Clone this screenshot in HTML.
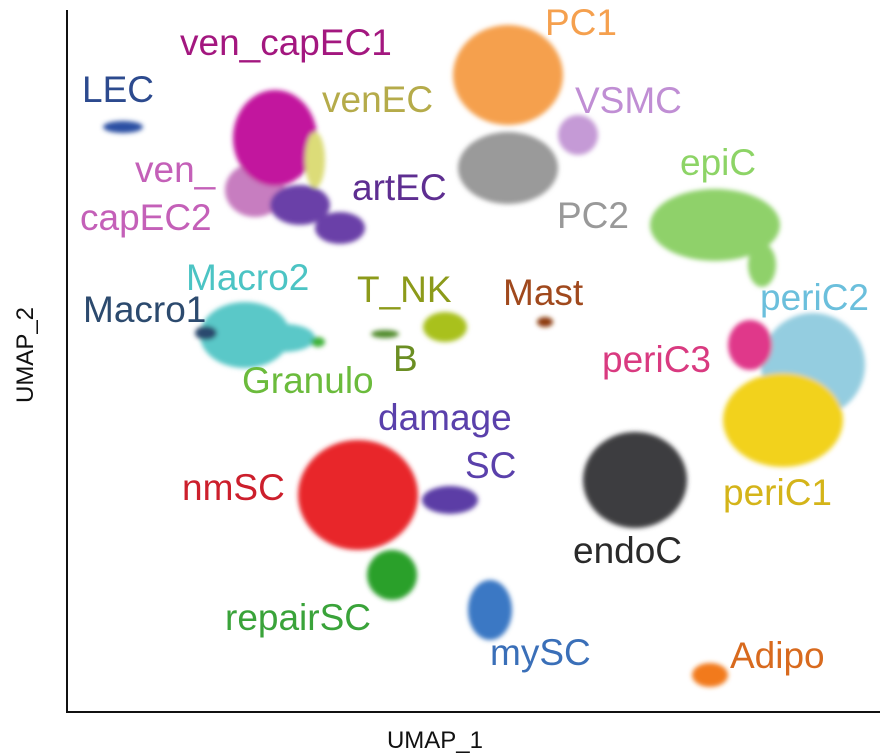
<!DOCTYPE html>
<html><head><meta charset="utf-8"><style>
html,body{margin:0;padding:0;background:#fff;}
svg{display:block;}
text{font-family:"Liberation Sans",Arial,sans-serif;}
</style></head><body>
<svg id="chart" width="887" height="755">
<defs>
<filter id="soft" x="-30%" y="-30%" width="160%" height="160%"><feGaussianBlur stdDeviation="2.5"/></filter>
</defs>
<g id="clusters" filter="url(#soft)"></g>
<g id="labels"></g>
<line x1="67" y1="10" x2="67" y2="712" stroke="#111" stroke-width="2"/>
<line x1="66" y1="712" x2="880" y2="712" stroke="#111" stroke-width="2"/>
<text x="435" y="748" font-size="24" text-anchor="middle" fill="#111">UMAP_1</text>
<text x="0" y="0" font-size="24" text-anchor="middle" fill="#111" transform="translate(33,355) rotate(-90)">UMAP_2</text>
</svg>
<script>
// cluster blobs in UMAP-like units (0..813 x, 0..702 y)
const blobNames=["LEC","ven_capEC2","ven_capEC1","artEC-a","artEC-b","venEC","PC1","PC2","VSMC","epiC-a","epiC-b","periC2","periC3","periC1","endoC","Mast","T_NK","B","Macro2-a","Macro2-b","Macro1","Granulo","nmSC","damageSC","repairSC","mySC","Adipo"];
const blobX=[56,188,208,233,273,248,441,441,511,648,695,746,683,716,568,478,378,318,178,218,139,251,291,383,325,423,643];
const blobY=[585,522,574,507,484,552,637,544,577,487,447,347,367,292,232,390,385,378,377,374,379,370,217,212,137,102,37];
const blobRX=[20,30,42,30,25,10,55,50,20,65,14,52,22,60,52,8,22,14,45,30,11,7,60,28,25,22,18];
const blobRY=[6,27,48,20,16,28,50,36,20,36,22,52,25,47,48,5,15,4,33,14,7,5,55,14,25,30,12];
const blobColors=["#2b4fa3","#c77dc0","#c2199e","#6a3fa8","#6a3fa8","#dcdc78","#f5a04e","#9a9a9a","#c59ad6","#8fd16a","#8fd16a","#94cde0","#e0388a","#f2d21b","#3d3d40","#8c3a10","#a9c11d","#4f8a2a","#5ac8c8","#5ac8c8","#2c4a6e","#3fb23a","#e8262a","#5c3ea6","#2ca02c","#3a78c4","#f27a1e"];
const labelTexts=["ven_capEC1","LEC","venEC","ven_","capEC2","artEC","PC1","VSMC","PC2","epiC","Macro2","T_NK","Mast","periC2","Macro1","B","periC3","Granulo","damage","SC","nmSC","periC1","endoC","repairSC","mySC","Adipo"];
const labelX=[113,15,255,68,13,285,478,508,490,613,119,290,436,693,16,326,535,175,311,398,115,656,506,158,423,663];
const labelY=[657,610,600,530,482,512,677,599,484,537,422,410,407,402,390,341,340,319,282,234,212,207,149,82,47,44];
const labelColors=["#a3177f","#2c4a8e","#b5ab4a","#c460b8","#c460b8","#5e2e91","#f5a04e","#c08ed4","#999999","#8dd466","#4cc4c4","#8c9a1a","#a0491d","#6bbfdc","#2c4a6e","#6b8e23","#d93a80","#6bbb3c","#5a40ab","#5a40ab","#cc1f2c","#d4b419","#2a2a2a","#3aa33a","#3a6fb8","#d86a1e"];
const X0=67,Y0=712;
function sx(v){return X0+v;}
function sy(v){return Y0-v;}
const NS="http://www.w3.org/2000/svg";
const cg=document.getElementById("clusters");
blobNames.forEach((n,i)=>{
  const e=document.createElementNS(NS,"ellipse");
  e.setAttribute("cx",sx(blobX[i]));e.setAttribute("cy",sy(blobY[i]));
  e.setAttribute("rx",blobRX[i]);e.setAttribute("ry",blobRY[i]);
  e.setAttribute("fill",blobColors[i]);
  
  
  cg.appendChild(e);
});
const lg=document.getElementById("labels");
labelTexts.forEach((t,i)=>{
  const e=document.createElementNS(NS,"text");
  e.setAttribute("x",sx(labelX[i]));e.setAttribute("y",sy(labelY[i]));
  e.setAttribute("font-size","37");e.setAttribute("fill",labelColors[i]);
  e.textContent=t;
  
  
  lg.appendChild(e);
});
</script>
</body></html>
